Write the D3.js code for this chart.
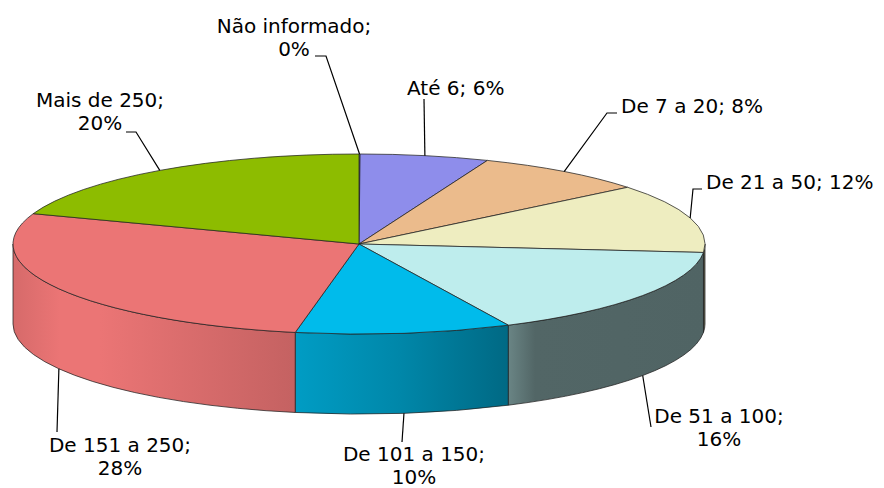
<!DOCTYPE html>
<html><head><meta charset="utf-8">
<script src="https://cdn.jsdelivr.net/npm/d3@7"></script>
<style>body{margin:0;background:#fff} svg{display:block}</style>
</head><body>
<svg id="c" width="884" height="488"></svg>
<script>
// ---- data ----
const categories = ["Não informado","Até 6","De 7 a 20","De 21 a 50","De 51 a 100","De 101 a 150","De 151 a 250","Mais de 250"];
const values = [0.05, 6.0, 8.1, 12.35, 16.4, 10.05, 27.52, 19.53];
const colors = ["#9999FF","#8E8DEB","#EBBB8C","#EEEDC0","#BEEDED","#00BBEB","#EB7575","#8DBC00"];

// ---- layout ----
const cx = 359, cy = 244, rx = 346, ry = 90, depth = 80;
const lineH = 23;
// label placement: x, first baseline y, anchor, wrap, leader bend points (after anchor)
const labelLayout = [
  {x:294, y:33,  anchor:"middle", wrap:true,  bends:[[326,56],[315,56]]},
  {x:407, y:95,  anchor:"start",  wrap:false, bends:[[424,99]]},
  {x:621, y:113, anchor:"start",  wrap:false, bends:[[607,113],[617,113]]},
  {x:706, y:189, anchor:"start",  wrap:false, bends:[[693,189],[702,189]]},
  {x:719, y:423, anchor:"middle", wrap:true,  bends:[[651,427]]},
  {x:414, y:461, anchor:"middle", wrap:true,  bends:[[402,442]]},
  {x:120, y:452, anchor:"middle", wrap:true,  bends:[[57,432]]},
  {x:100, y:107, anchor:"middle", wrap:true,  bends:[[136,132],[126,132]]}
];
// side-wall lighting across x -> brightness
const shade = [[13,0.91],[60,1.0],[100,1.0],[292,0.84],[400,0.72],[508,0.56],[535,0.43],[705,0.42]];

const svg = d3.select("#c");
const defs = svg.append("defs");
const pie = d3.pie().sort(null).value(d => d)(values);

const P = (a, dy) => [cx + rx*Math.sin(a), cy - ry*Math.cos(a) + dy];
const fmt = p => p[0].toFixed(2) + "," + p[1].toFixed(2);

// gradients
colors.forEach((c, i) => {
  const g = defs.append("linearGradient").attr("id","g"+i)
    .attr("gradientUnits","userSpaceOnUse")
    .attr("x1", cx-rx).attr("x2", cx+rx).attr("y1",0).attr("y2",0);
  const base = d3.rgb(c);
  shade.forEach(([x,f]) => {
    g.append("stop").attr("offset", (x-(cx-rx))/(2*rx))
      .attr("stop-color", d3.rgb(Math.min(255,base.r*f), Math.min(255,base.g*f), Math.min(255,base.b*f)).formatHex());
  });
});

const stroke = "#222", sw = 0.75;

// side walls
pie.forEach((d, i) => {
  const s = Math.max(d.startAngle, Math.PI/2), e = Math.min(d.endAngle, 3*Math.PI/2);
  if (e <= s) return;
  const large = (e - s) > Math.PI ? 1 : 0;
  const path = `M${fmt(P(s,0))}A${rx},${ry} 0 ${large} 1 ${fmt(P(e,0))}L${fmt(P(e,depth))}A${rx},${ry} 0 ${large} 0 ${fmt(P(s,depth))}Z`;
  svg.append("path").attr("d", path).attr("fill", `url(#g${i})`)
    .attr("stroke", stroke).attr("stroke-width", sw).attr("stroke-linejoin","round");
});

// top faces
pie.forEach((d, i) => {
  const large = (d.endAngle - d.startAngle) > Math.PI ? 1 : 0;
  const path = `M${cx},${cy}L${fmt(P(d.startAngle,0))}A${rx},${ry} 0 ${large} 1 ${fmt(P(d.endAngle,0))}Z`;
  svg.append("path").attr("d", path).attr("fill", colors[i])
    .attr("stroke", stroke).attr("stroke-width", sw).attr("stroke-linejoin","round");
});

// leaders and labels
const total = d3.sum(values);
pie.forEach((d, i) => {
  const mid = (d.startAngle + d.endAngle)/2;
  const front = Math.cos(mid) < 0;
  const anchor = P(mid, front ? depth : 0);
  const L = labelLayout[i];
  const pts = [anchor, ...L.bends];
  svg.append("path").attr("d", d3.line()(pts)).attr("fill","none")
    .attr("stroke","#000").attr("stroke-width",1.2);

  const pct = Math.round(values[i] / total * 100) + "%";
  const lines = L.wrap ? [categories[i] + ";", pct] : [categories[i] + "; " + pct];
  const t = svg.append("text").attr("x", L.x).attr("y", L.y)
    .attr("text-anchor", L.anchor)
    .attr("font-family", "Verdana, 'DejaVu Sans', sans-serif")
    .attr("font-size", 20).attr("fill", "#000");
  lines.forEach((ln, k) => {
    t.append("tspan").attr("x", L.x).attr("dy", k === 0 ? 0 : lineH).text(ln);
  });
});
</script>
</body></html>
